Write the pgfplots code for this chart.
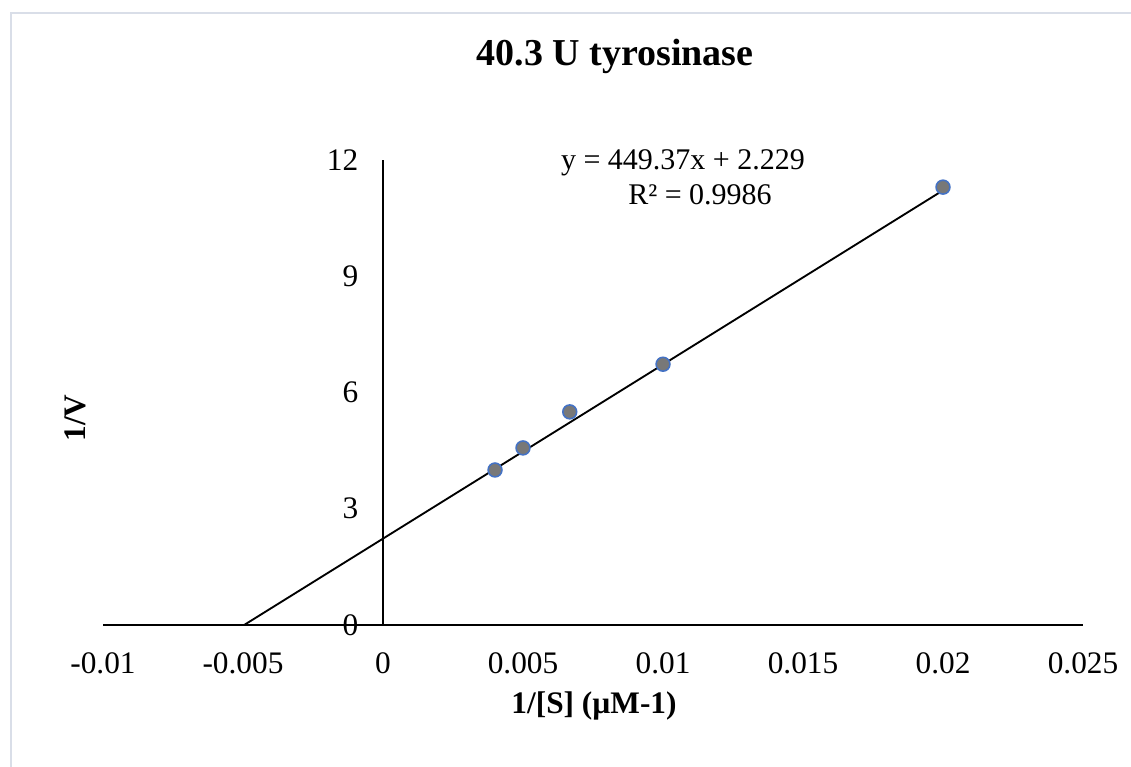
\documentclass[border=0pt]{standalone}
\usepackage{pgfplots}
\pgfplotsset{compat=1.18}
\usepackage{fontspec}
\setmainfont{Liberation Serif}
\definecolor{frame}{RGB}{217,222,232}
\definecolor{mkblue}{RGB}{68,114,196}
\definecolor{mkgray}{RGB}{120,120,120}
\begin{document}
\begin{tikzpicture}
\useasboundingbox (0,0) rectangle (848.25pt,575.25pt);
\draw[frame, line width=1.6pt] (8.25pt,0pt) -- (8.25pt,565.5pt) -- (848.25pt,565.5pt);
\begin{axis}[
  at={(77.25pt,106.5pt)}, anchor=south west,
  scale only axis, width=735pt, height=348.75pt,
  xmin=-0.01, xmax=0.025, ymin=0, ymax=12,
  axis x line=bottom, axis y line=middle,
  axis line style={black, line width=1.2pt, -},
  scaled x ticks=false, scaled y ticks=false,
  xtick={-0.01,-0.005,0,0.005,0.01,0.015,0.02,0.025},
  xticklabels={-0.01,-0.005,0,0.005,0.01,0.015,0.02,0.025},
  ytick={0,3,6,9,12},
  yticklabels={0,3,6,9,12},
  major tick length=0pt,
  tick label style={font=\fontsize{23.5}{27}\selectfont},
  x tick label style={yshift=-17pt},
  y tick label style={xshift=-15pt},
  clip=false,
]
\addplot[black, line width=1.4pt] coordinates {(-0.00496,0) (0.02,11.216)};
\addplot[only marks, mark=*, mark size=5.2pt, mark options={fill=mkgray, draw=mkblue, line width=1.2pt}]
  coordinates {(0.004,4.0) (0.005,4.57) (0.00667,5.5) (0.01,6.73) (0.02,11.3)};
\node[font=\fontsize{22.5}{26}\selectfont] at (axis cs:0.010714,11.92) {y = 449.37x + 2.229};
\node[font=\fontsize{22.5}{26}\selectfont] at (axis cs:0.01132,11.1) {R² = 0.9986};
\node[anchor=east, xshift=-15pt, font=\fontsize{23.5}{27}\selectfont] at (axis cs:0,0) {0};
\end{axis}
\node[font=\fontsize{28.5}{32}\selectfont\bfseries] at (461.25pt,533.25pt) {40.3 U tyrosinase};
\node[font=\fontsize{23.5}{27}\selectfont\bfseries, rotate=90] at (56.25pt,261.75pt) {1/V};
\node[font=\fontsize{23.5}{27}\selectfont\bfseries] at (445.5pt,46pt) {1/[S] (µM-1)};
\end{tikzpicture}
\end{document}
